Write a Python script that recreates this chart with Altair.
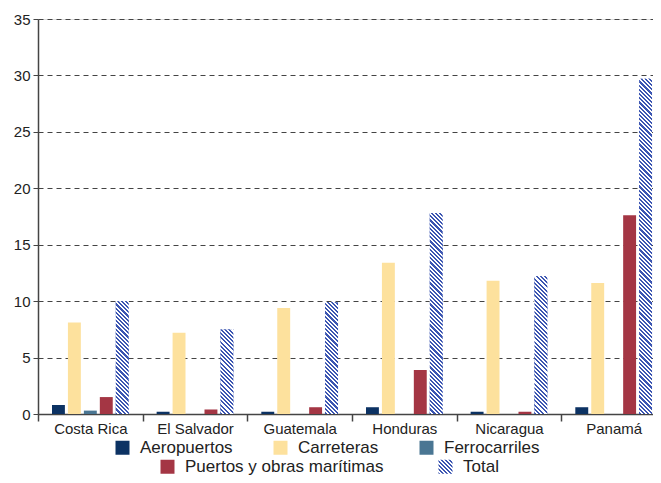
import json
import altair as alt
import pandas as pd

# ---- data ----
countries = ["Costa Rica", "El Salvador", "Guatemala", "Honduras", "Nicaragua", "Panamá"]
series = ["Aeropuertos", "Carreteras", "Ferrocarriles", "Puertos y obras marítimas", "Total"]
aeropuertos = [0.8, 0.2, 0.2, 0.6, 0.2, 0.6]
carreteras = [8.1, 7.2, 9.4, 13.4, 11.8, 11.6]
ferrocarriles = [0.3, 0.0, 0.0, 0.0, 0.0, 0.0]
puertos = [1.5, 0.4, 0.6, 3.9, 0.2, 17.6]
total = [10.0, 7.5, 9.9, 17.8, 12.2, 29.7]

colors = ["#0c3263", "#fde19d", "#4a7693", "#a43644"]
hatch_color = "#3c56b2"

values = [aeropuertos, carreteras, ferrocarriles, puertos, total]
rows = []
for s, vals in zip(series, values):
    for c, v in zip(countries, vals):
        rows.append({"country": c, "series": s, "value": v})
df = pd.DataFrame(rows)

# ---- layout / style constants ----
PLOT_W = 615          # visible plot width (right side cut off like the reference)
X_RANGE = 628         # full band range (6 bands)
PLOT_H = 395
Y_MAX = 35
PX_PER_UNIT = PLOT_H / Y_MAX
BAR_W = 12.9
FONT = "Liberation Sans"


def hatch(W, H, period=4.2, frac=0.5, color=hatch_color):
    """Linear gradient giving '\\' stripes at 45 degrees on a WxH box."""
    tot = W + H
    lam = tot / (W * W + H * H)
    stops = []
    a = 0.0
    while a < tot:
        b = min(a + frac * period, tot)
        e = min(a + period, tot)
        stops += [(a / tot, color), (b / tot, color), (b / tot, "#ffffff"), (e / tot, "#ffffff")]
        a += period
    return {
        "gradient": "linear",
        "x1": 0, "y1": 1,
        "x2": round(lam * W, 5), "y2": round(1 - lam * H, 5),
        "stops": [{"offset": round(o, 5), "color": c} for o, c in stops],
    }


x_enc = alt.X(
    "country:N", sort=countries, title=None,
    scale=alt.Scale(range=[0, X_RANGE], paddingInner=0, paddingOuter=0),
    axis=alt.Axis(labelAngle=0, labelFontSize=15, labelFont=FONT, labelColor="#222",
                  domainColor="#444", domainWidth=1.5, tickColor="#444", tickWidth=1.5,
                  tickSize=7, labelPadding=0, tickBand="extent", grid=False),
)
xo_enc = alt.XOffset(
    "series:N", sort=series,
    scale=alt.Scale(domain=series, paddingInner=0.19, paddingOuter=0.876),
)
y_enc = alt.Y(
    "value:Q", title=None,
    scale=alt.Scale(domain=[0, Y_MAX], nice=False),
    axis=alt.Axis(values=list(range(0, 36, 5)), labelFontSize=15, labelFont=FONT,
                  labelColor="#222", domainColor="#444", domainWidth=1.5,
                  tickColor="#444", tickWidth=1, tickSize=5, labelPadding=3,
                  grid=True, gridDash=[5, 4], gridColor="#444", gridWidth=1),
)

legend_common = dict(
    orient="none", direction="horizontal", title=None, padding=0,
    labelFontSize=17, labelFont=FONT, labelColor="#222", symbolSize=196,
    symbolType="square", symbolStrokeWidth=0, labelOffset=9, labelLimit=400,
)

base = alt.Chart(df)

row1 = series[:3]
row2 = series[3:]

layer1 = base.transform_filter(
    alt.FieldOneOfPredicate(field="series", oneOf=row1)
).mark_bar().encode(
    x=x_enc, xOffset=xo_enc, y=y_enc,
    color=alt.Color("series:N", sort=row1,
                    scale=alt.Scale(domain=row1, range=colors[:3]),
                    legend=alt.Legend(legendX=76, legendY=420, columnPadding=39, **legend_common)),
)

legend_grad = hatch(14, 14, period=4.0)
layer2 = base.transform_filter(
    alt.FieldOneOfPredicate(field="series", oneOf=row2)
).mark_bar().encode(
    x=x_enc, xOffset=xo_enc, y=y_enc,
    fill=alt.Fill("series:N", sort=row2,
                  scale=alt.Scale(domain=row2, range=[colors[3], {"expr": json.dumps(legend_grad)}]),
                  legend=alt.Legend(legendX=121, legendY=439, columnPadding=53, **legend_common)),
)

layers = [layer1, layer2]
for c, v in zip(countries, total):
    g = hatch(BAR_W, v * PX_PER_UNIT)
    layers.append(
        base.transform_filter(
            (alt.datum.series == "Total") & (alt.datum.country == c)
        ).mark_bar(fill=g).encode(x=x_enc, xOffset=xo_enc, y=y_enc)
    )

chart = alt.layer(*layers).properties(
    width=PLOT_W, height=PLOT_H,
    autosize=alt.AutoSizeParams(type="none"),
    padding={"left": 30, "top": 11, "right": 0, "bottom": 61},
).configure_view(stroke=None).configure(background="white")

chart.save("out.html", embed_options={"renderer": "svg", "actions": False})
